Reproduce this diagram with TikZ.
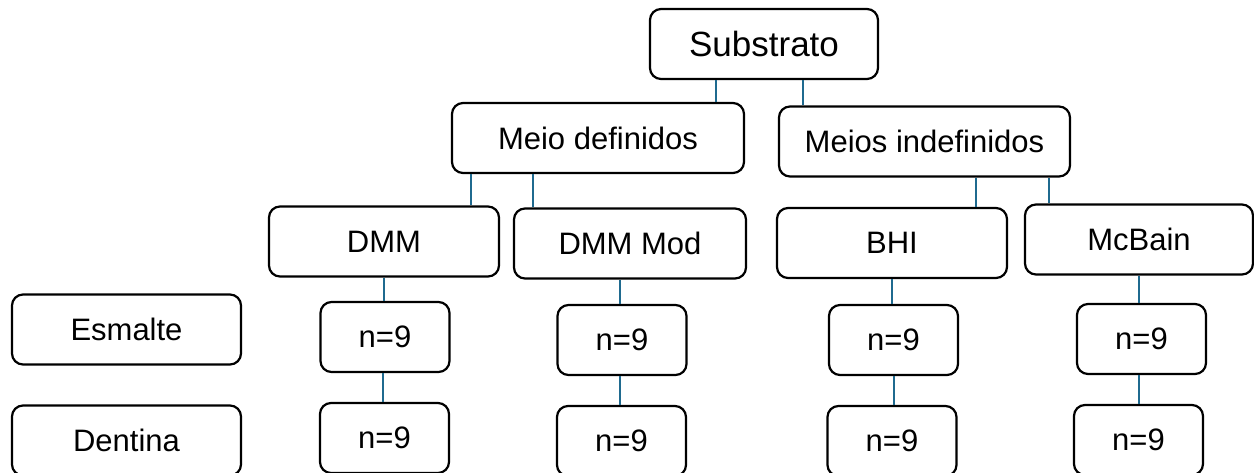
\documentclass[tikz,border=0pt]{standalone}
\usepackage{fontspec}
\setmainfont{Liberation Sans}
\usetikzlibrary{positioning, calc}

\begin{document}
\begin{tikzpicture}[
    x=1pt, y=-1pt,
    box/.style={draw, line width=2.2pt, rounded corners=11pt, minimum width=230pt, minimum height=70pt, inner sep=0pt, font=\fontsize{31}{37}\selectfont, align=center},
    nbox/.style={box, minimum width=129pt},
    link/.style={draw, line width=2pt, color=linkblue}
]
    \definecolor{linkblue}{RGB}{31,106,143}
    \useasboundingbox (0,0) rectangle (1254,472);

    % top levels
    \node[box, minimum width=228pt, font=\fontsize{35}{41}\selectfont] (sub) at (764,44) {Substrato};
    \node[box, minimum width=292pt] (mdef) at (598,138) {Meio definidos};
    \node[box, minimum width=291pt] (mind) at (924.5,141.5) {Meios indefinidos};

    % media
    \node[box] (dmm) at (384,241.5) {DMM};
    \node[box, minimum width=232pt] (dmmmod) at (630,243.5) {DMM Mod};
    \node[box] (bhi) at (892,243) {BHI};
    \node[box, minimum width=228pt] (mcb) at (1139,239.5) {McBain};

    % row labels
    \node[box, minimum width=229pt] (esm) at (126.5,329.5) {Esmalte};
    \node[box, minimum width=229pt] (den) at (126.5,440.5) {Dentina};

    % samples
    \node[nbox] (n1e) at (385,337) {n=9};
    \node[nbox] (n2e) at (622,340) {n=9};
    \node[nbox] (n3e) at (893.5,340) {n=9};
    \node[nbox] (n4e) at (1141.5,339) {n=9};
    \node[nbox] (n1d) at (384.5,438) {n=9};
    \node[nbox] (n2d) at (621.5,441) {n=9};
    \node[nbox] (n3d) at (892,441) {n=9};
    \node[nbox] (n4d) at (1138.5,440) {n=9};

    \draw[link] ([xshift=-48pt]sub.south) -- ([xshift=-48pt]sub.south |- mdef.north);
    \draw[link] ([xshift=39pt]sub.south) -- ([xshift=39pt]sub.south |- mind.north);
    \draw[link] ([xshift=-127pt]mdef.south) -- ([xshift=-127pt]mdef.south |- dmm.north);
    \draw[link] ([xshift=-65pt]mdef.south) -- ([xshift=-65pt]mdef.south |- dmmmod.north);
    \draw[link] ([xshift=51.5pt]mind.south) -- ([xshift=51.5pt]mind.south |- bhi.north);
    \draw[link] ([xshift=124.5pt]mind.south) -- ([xshift=124.5pt]mind.south |- mcb.north);

    \draw[link] (dmm.south) -- (dmm.south |- n1e.north);
    \draw[link] ([xshift=-10pt]dmmmod.south) -- ([xshift=-10pt]dmmmod.south |- n2e.north);
    \draw[link] (bhi.south) -- (bhi.south |- n3e.north);
    \draw[link] (mcb.south) -- (mcb.south |- n4e.north);

    \draw[link] ([xshift=-2pt]n1e.south) -- ([xshift=-2pt]n1e.south |- n1d.north);
    \draw[link] ([xshift=-2pt]n2e.south) -- ([xshift=-2pt]n2e.south |- n2d.north);
    \draw[link] (n3e.south) -- (n3e.south |- n3d.north);
    \draw[link] ([xshift=-3pt]n4e.south) -- ([xshift=-3pt]n4e.south |- n4d.north);
\end{tikzpicture}
\end{document}
